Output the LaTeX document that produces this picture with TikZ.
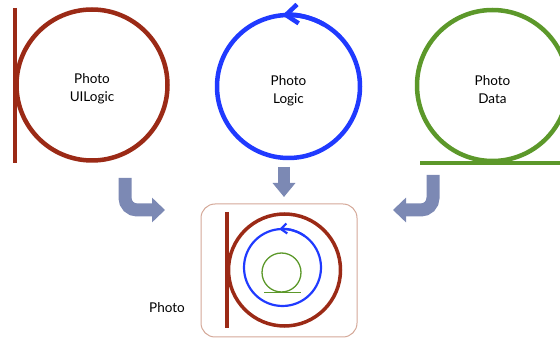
\documentclass[tikz,border=0pt]{standalone}
\usepackage{fontspec}
\setmainfont{Lato}
\usetikzlibrary{arrows.meta,calc}

\definecolor{photored}{RGB}{155,42,22}
\definecolor{photoblue}{RGB}{32,58,255}
\definecolor{photogreen}{RGB}{92,152,42}
\definecolor{flowgray}{RGB}{124,137,180}
\definecolor{boxedge}{RGB}{212,168,152}

\tikzset{
  ring/.style={circle, inner sep=0pt, outer sep=0pt},
  ringtext/.style={align=center, inner sep=0pt,
    font=\fontsize{13.5}{18}\selectfont},
  flow/.style={flowgray, line width=13pt, rounded corners=12pt,
    -{Triangle[length=13pt,width=24pt]}},
}

\begin{document}
\begin{tikzpicture}[x=1pt,y=1pt]
  \clip (0,0) rectangle (560,340);
  % the three parts
  \node[ring, draw=photored, line width=4.5pt, minimum size=151pt] (uilogic) at (92,255) {};
  \node[ringtext] (uilogictext) at ($(uilogic)+(0,-4)$) {Photo\\UILogic};
  \draw[photored, line width=4pt] (uilogic.west) ++(-1.5,77) -- ++(0,-155);
  \node[ring, draw=photoblue, line width=4.5pt, minimum size=143pt] (logic) at (288.5,253.5) {};
  \node[ringtext] (logictext) at ($(logic)+(0,-4)$) {Photo\\Logic};
  \draw[photoblue, line width=4.5pt, -{Straight Barb[length=12pt,width=19pt]}] %
    (logic.center) ++(60:71.5) arc (60:95:71.5);
  \node[ring, draw=photogreen, line width=4.5pt, minimum size=151pt] (data) at (492.5,254.5) {};
  \node[ringtext] (datatext) at ($(data)+(0,-4)$) {Photo\\Data};
  \draw[photogreen, line width=4pt] (data.south) ++(-72.5,-2) -- ++(145,0);

  % flows into the package
  \coordinate (uiout) at (125,162);
  \coordinate (uiin) at (165,130);
  \coordinate (logout) at (284,173);
  \coordinate (login) at (284,143);
  \coordinate (dataout) at (433,165);
  \coordinate (datain) at (393,130);
  \draw[flow] (uiout) |- (uiin);
  \draw[flow, line width=12pt, -{Triangle[length=14pt,width=22pt]}] (logout) -- (login);
  \draw[flow] (dataout) |- (datain);

  % the package
  \node[draw=boxedge, line width=1pt, rounded corners=14pt, minimum width=156pt, %
    minimum height=133pt] (pkg) at (279,69.5) {};
  \node[ring, draw=photored, line width=3.5pt, minimum size=112pt] (pkgred) at (284.5,70) {};
  \draw[photored, line width=3.5pt] (pkgred.west) ++(-1.5,58) -- ++(0,-116);
  \node[ring, draw=photoblue, line width=2.2pt, minimum size=77pt] (pkgblue) at (282.5,72.5) {};
  \draw[photoblue, line width=2.2pt, -{Straight Barb[length=6pt,width=10pt]}] %
    (pkgblue.center) ++(55:38.5) arc (55:95:38.5);
  \node[ring, draw=photogreen, line width=1.3pt, minimum size=39pt] (pkggreen) at (281.5,67.5) {};
  \draw[photogreen, line width=1.5pt] (pkggreen.south) ++(-17.5,-0.5) -- ++(37,0);
  \node[font=\fontsize{13.5}{16}\selectfont] (pkgname) at (167,32) {Photo};
\end{tikzpicture}
\end{document}
